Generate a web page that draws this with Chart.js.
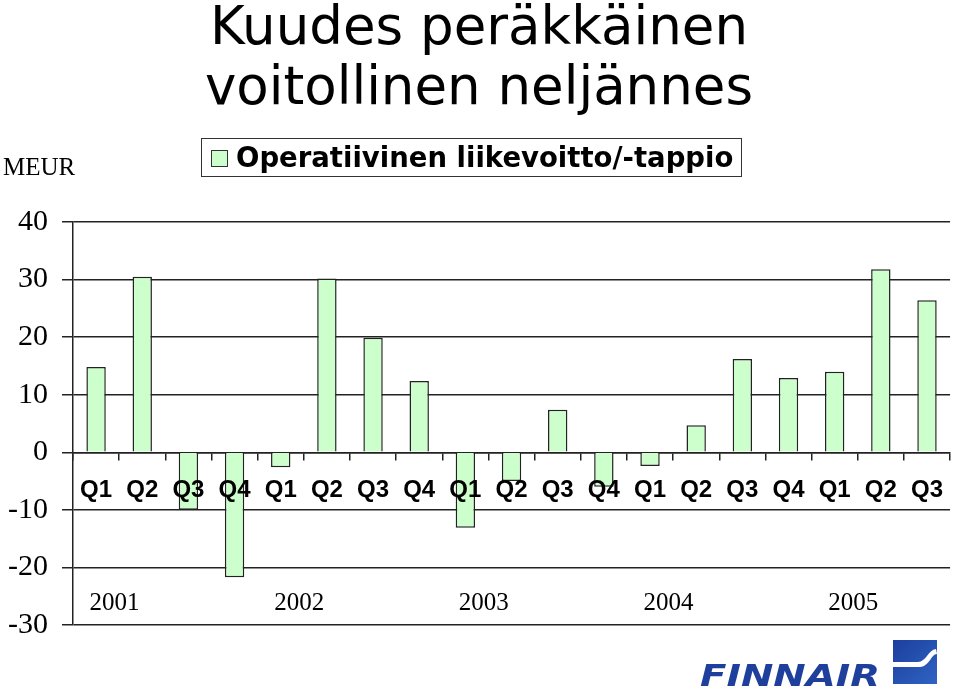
<!DOCTYPE html>
<html>
<head>
<meta charset="utf-8">
<script src="https://cdn.jsdelivr.net/npm/chart.js@4.4.1/dist/chart.umd.min.js"></script>
<style>
  html, body { margin: 0; padding: 0; background: #ffffff; }
  #wrap { position: relative; width: 960px; height: 688px; overflow: hidden; }
  #chart { position: absolute; left: 0; top: 0; }
  .title {
    position: absolute; left: 0; width: 958px; text-align: center;
    font-family: "DejaVu Sans", sans-serif;
    font-size: 53px; line-height: 60px; color: #000;
  }
  .unit {
    position: absolute; left: 3px; top: 153px;
    font-family: "Liberation Serif", serif; font-size: 25px; color: #000;
  }
  .legend {
    position: absolute; left: 201px; top: 138px; width: 539px; height: 37px;
    border: 1.5px solid #333; box-sizing: content-box;
  }
  .legend .swatch {
    position: absolute; left: 9px; top: 11px; width: 15px; height: 15px;
    background: #ccffcc; border: 1px solid #333;
  }
  .legend .label {
    position: absolute; left: 34px; top: 2px;
    font-family: "DejaVu Sans", sans-serif;
    font-weight: bold; font-size: 27.5px; line-height: 32px; color: #000; white-space: nowrap;
  }
  #logo { position: absolute; left: 690px; top: 636px; }
</style>
</head>
<body>
<div id="wrap">
  <canvas id="chart" width="960" height="688"></canvas>
  <div class="title" style="top:-4px">Kuudes peräkkäinen</div>
  <div class="title" style="top:56px">voitollinen neljännes</div>
  <div class="unit">MEUR</div>
  <div class="legend"><div class="swatch"></div><div class="label">Operatiivinen liikevoitto/-tappio</div></div>
  <svg id="logo" width="270" height="52" viewBox="0 0 270 52">
    <defs>
      <linearGradient id="sq" x1="0" y1="0" x2="1" y2="1">
        <stop offset="0" stop-color="#1c3f9c"/>
        <stop offset="1" stop-color="#2f63c4"/>
      </linearGradient>
    </defs>
    <text x="10" y="50" textLength="180" lengthAdjust="spacingAndGlyphs"
      font-family="DejaVu Sans, sans-serif" font-weight="bold" font-style="italic"
      font-size="30" fill="#1f3f9c">FINNAIR</text>
    <rect x="203" y="4" width="44" height="44" fill="url(#sq)"/>
    <path d="M203 26 L228 26 C236 26 238 14 246 13 L247 18 C241 18 240 30 230 31 L203 31 Z" fill="#ffffff"/>
  </svg>
</div>
<script>
const quarters = ["Q1", "Q2", "Q3", "Q4", "Q1", "Q2", "Q3", "Q4", "Q1", "Q2", "Q3", "Q4",
  "Q1", "Q2", "Q3", "Q4", "Q1", "Q2", "Q3"];
const years = ["2001", "2002", "2003", "2004", "2005"];
const operatingResult = [14.8, 30.5, -10.0, -21.7, -2.6, 30.2, 19.9, 12.4, -13.1, -5.0, 7.4, -6.0,
  -2.4, 4.7, 16.2, 12.9, 14.0, 31.8, 26.4];
const yTicks = [-30, -20, -10, 0, 10, 20, 30, 40];

const lineColor = "#222222";

// year captions sit a bit right of each year's first quarter
const yearLabels = {
  id: "yearLabels",
  afterDraw: (chart) => {
    const { ctx } = chart;
    const x = chart.scales.x;
    const step = x.getPixelForValue(1) - x.getPixelForValue(0);
    ctx.save();
    ctx.font = "25px 'Liberation Serif', serif";
    ctx.fillStyle = "#000";
    ctx.textAlign = "center";
    ctx.textBaseline = "middle";
    years.forEach((year, i) => {
      ctx.fillText(year, x.getPixelForValue(i * 4) + step * 0.4, 603);
    });
    ctx.restore();
  },
};

Chart.defaults.animation = false;
Chart.defaults.responsive = false;
Chart.defaults.plugins.legend.display = false;
Chart.defaults.plugins.tooltip.enabled = false;

new Chart(document.getElementById("chart"), {
  type: "bar",
  data: {
    labels: quarters,
    datasets: [
      {
        label: "Operatiivinen liikevoitto/-tappio",
        data: operatingResult,
        backgroundColor: "#ccffcc",
        borderColor: lineColor,
        borderWidth: 1.5,
        categoryPercentage: 1,
        barPercentage: 0.42,
      },
    ],
  },
  options: {
    maintainAspectRatio: false,
    layout: { padding: { top: 222, bottom: 63, left: 0, right: 0 } },
    scales: {
      x: {
        position: { y: 0 },
        grid: {
          offset: true,
          drawOnChartArea: false,
          drawTicks: true,
          tickLength: 7,
          color: lineColor,
          lineWidth: 1.5,
        },
        border: { display: true, color: lineColor, width: 1.5 },
        ticks: {
          z: 1,
          color: "#000",
          font: { family: "'Liberation Sans', Arial, sans-serif", size: 24, weight: "bold" },
          padding: 17,
          maxRotation: 0,
          autoSkip: false,
        },
      },
      y: {
        min: yTicks[0],
        max: yTicks[yTicks.length - 1],
        afterBuildTicks: (scale) => {
          scale.ticks = yTicks.map((v) => ({ value: v }));
        },
        afterFit: (scale) => {
          scale.width = 73;
        },
        grid: { color: lineColor, lineWidth: 1.5, tickLength: 11 },
        border: { color: lineColor, width: 1.5 },
        ticks: {
          color: "#000",
          font: { family: "'Liberation Serif', 'Times New Roman', serif", size: 30 },
          padding: 14,
        },
      },
    },
  },
  plugins: [yearLabels],
});
</script>
</body>
</html>
